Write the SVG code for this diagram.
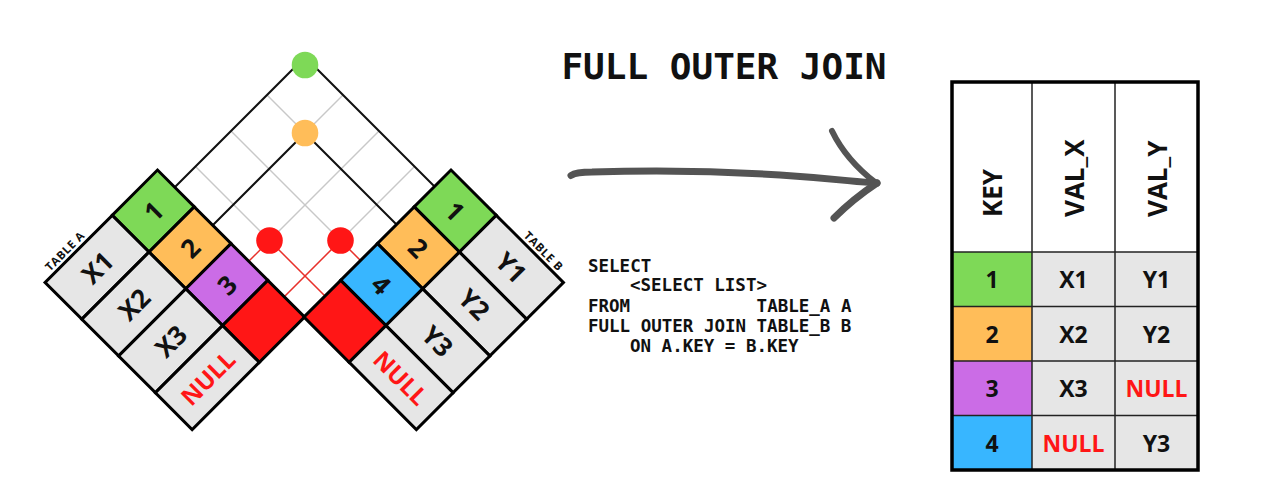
<svg xmlns="http://www.w3.org/2000/svg" width="1272" height="498" viewBox="0 0 1272 498">
<style>
.bg{fill:#ffffff}
.cell{stroke:#000;stroke-width:3;stroke-linejoin:miter}
.val{fill:#e6e6e6}
.g{fill:#7ed957}.o{fill:#ffbd59}.p{fill:#cb6ce6}.b{fill:#38b6ff}.r{fill:#ff1616}
.t{font-family:"Open Sans","DejaVu Sans",sans-serif;font-weight:700;fill:#111;text-anchor:middle;dominant-baseline:central}
.big{font-size:26px}
.null{fill:#ff1616;font-size:24px}
.lbl{font-family:"Open Sans","DejaVu Sans",sans-serif;font-weight:700;font-size:11.5px;letter-spacing:0.6px;fill:#111}
.gray{stroke:#c8c8c8;stroke-width:1.5;fill:none}
.blk{stroke:#111;stroke-width:2;fill:none}
.red{stroke:#e8312b;stroke-width:1.5;fill:none}
.mono{font-family:"DejaVu Sans Mono","Liberation Mono",monospace;font-weight:700;fill:#111}
.sql{font-size:17.5px}
.arrow{stroke:#545454;fill:none;stroke-linecap:round;stroke-linejoin:round}
.tline{stroke:#222;stroke-width:1.5}
.tt{font-family:"Open Sans","DejaVu Sans",sans-serif;font-weight:700;fill:#111;text-anchor:middle;dominant-baseline:central;font-size:23px}
.th{font-family:"Open Sans","DejaVu Sans",sans-serif;font-weight:700;fill:#111;dominant-baseline:central;font-size:26px}
</style>
<rect class="bg" x="0" y="0" width="1272" height="498"/>

<g id="connectors">
  <line class="gray" x1="305" y1="133" x2="343" y2="95"/>
  <line class="gray" x1="305" y1="133" x2="267" y2="95"/>
  <line class="gray" x1="269.5" y1="240.5" x2="379" y2="131"/>
  <line class="gray" x1="269.5" y1="240.5" x2="195.5" y2="166.5"/>
  <line class="gray" x1="340.5" y1="240.5" x2="414.5" y2="166.5"/>
  <line class="gray" x1="340.5" y1="240.5" x2="231" y2="131"/>
  <polyline class="blk" points="174.75,187.25 305,57 434.5,186.5"/>
  <polyline class="blk" points="212.75,225.25 305,133 396.5,224.5"/>
  <polyline class="red" points="248.75,261.25 269.5,240.5 325,296"/>
  <polyline class="red" points="284.25,296.75 340.5,240.5 360.5,260.5"/>
</g>

<g id="table-a" transform="translate(157.5,170) rotate(45)">
  <rect class="cell g" x="0" y="0" width="52" height="64"/>
  <rect class="cell o" x="52" y="0" width="52" height="64"/>
  <rect class="cell p" x="104" y="0" width="52" height="64"/>
  <rect class="cell r" x="156" y="0" width="52" height="64"/>
  <rect class="cell val" x="0" y="64" width="52" height="95"/>
  <rect class="cell val" x="52" y="64" width="52" height="95"/>
  <rect class="cell val" x="104" y="64" width="52" height="95"/>
  <rect class="cell val" x="156" y="64" width="52" height="95"/>
  <text class="t big" transform="translate(26,32) rotate(-90)">1</text>
  <text class="t big" transform="translate(78,32) rotate(-90)">2</text>
  <text class="t big" transform="translate(130,32) rotate(-90)">3</text>
  <text class="t big" transform="translate(26,111.5) rotate(-90)">X1</text>
  <text class="t big" transform="translate(78,111.5) rotate(-90)">X2</text>
  <text class="t big" transform="translate(130,111.5) rotate(-90)">X3</text>
  <text class="t null" transform="translate(182,111.5) rotate(-90)">NULL</text>
  <text class="lbl" transform="translate(-4,148) rotate(-90)">TABLE A</text>
</g>

<g id="table-b" transform="translate(451,170) rotate(45)">
  <rect class="cell g" x="0" y="0" width="64" height="52"/>
  <rect class="cell o" x="0" y="52" width="64" height="52"/>
  <rect class="cell b" x="0" y="104" width="64" height="52"/>
  <rect class="cell r" x="0" y="156" width="64" height="52"/>
  <rect class="cell val" x="64" y="0" width="95" height="52"/>
  <rect class="cell val" x="64" y="52" width="95" height="52"/>
  <rect class="cell val" x="64" y="104" width="95" height="52"/>
  <rect class="cell val" x="64" y="156" width="95" height="52"/>
  <text class="t big" x="32" y="26">1</text>
  <text class="t big" x="32" y="78">2</text>
  <text class="t big" x="32" y="130">4</text>
  <text class="t big" x="111.5" y="26">Y1</text>
  <text class="t big" x="111.5" y="78">Y2</text>
  <text class="t big" x="111.5" y="130">Y3</text>
  <text class="t null" x="111.5" y="182">NULL</text>
  <text class="lbl" x="148" y="-4" text-anchor="end">TABLE B</text>
</g>

<g id="join-points">
  <circle id="jp-1" cx="305" cy="65" r="13.3" fill="#7ed957"/>
  <circle id="jp-2" cx="305" cy="133" r="13.3" fill="#ffbd59"/>
  <circle id="jp-3" cx="269.5" cy="240.5" r="13.3" fill="#ff1616"/>
  <circle id="jp-4" cx="340.5" cy="240.5" r="13.3" fill="#ff1616"/>
</g>

<g id="title">
  <text class="mono" x="724" y="79" font-size="36" text-anchor="middle">FULL OUTER JOIN</text>
</g>

<g id="arrow">
  <path class="arrow" stroke-width="7" d="M571,175.5 Q576,172 592,172 C650,170 720,171 780,175 S855,182 877,183"/>
  <path class="arrow" stroke-width="6" d="M832,131 Q846,160 876,183"/>
  <path class="arrow" stroke-width="7" d="M877,183 Q853,199 834,218"/>
</g>

<g id="sql">
  <text class="mono sql" x="588" y="271.5">SELECT</text>
  <text class="mono sql" x="630" y="291">&lt;SELECT LIST&gt;</text>
  <text class="mono sql" x="588" y="311.5">FROM</text>
  <text class="mono sql" x="756.6" y="311.5">TABLE_A A</text>
  <text class="mono sql" x="588" y="331.5">FULL OUTER JOIN TABLE_B B</text>
  <text class="mono sql" x="630" y="351.5">ON A.KEY = B.KEY</text>
</g>

<g id="result-table">
  <rect x="952" y="82" width="246" height="170" fill="#fff"/>
  <rect x="952" y="252" width="80" height="54.5" fill="#7ed957"/>
  <rect x="952" y="306.5" width="80" height="54.5" fill="#ffbd59"/>
  <rect x="952" y="361" width="80" height="54.5" fill="#cb6ce6"/>
  <rect x="952" y="415.5" width="80" height="54.5" fill="#38b6ff"/>
  <rect x="1032" y="252" width="166" height="218" fill="#e6e6e6"/>
  <line class="tline" x1="1032" y1="82" x2="1032" y2="470"/>
  <line class="tline" x1="1115" y1="82" x2="1115" y2="470"/>
  <line class="tline" x1="952" y1="252" x2="1198" y2="252"/>
  <line class="tline" x1="952" y1="306.5" x2="1198" y2="306.5"/>
  <line class="tline" x1="952" y1="361" x2="1198" y2="361"/>
  <line class="tline" x1="952" y1="415.5" x2="1198" y2="415.5"/>
  <rect x="952" y="82" width="246" height="388" fill="none" stroke="#000" stroke-width="3.5"/>
  <text class="th" transform="translate(992,217) rotate(-90)">KEY</text>
  <text class="th" transform="translate(1073.5,217) rotate(-90)">VAL_X</text>
  <text class="th" transform="translate(1156.5,217) rotate(-90)">VAL_Y</text>
  <text class="tt" x="992" y="279.25">1</text>
  <text class="tt" x="1073.5" y="279.25">X1</text>
  <text class="tt" x="1156.5" y="279.25">Y1</text>
  <text class="tt" x="992" y="333.75">2</text>
  <text class="tt" x="1073.5" y="333.75">X2</text>
  <text class="tt" x="1156.5" y="333.75">Y2</text>
  <text class="tt" x="992" y="388.25">3</text>
  <text class="tt" x="1073.5" y="388.25">X3</text>
  <text class="tt" x="1156.5" y="388.25" style="fill:#ff1616">NULL</text>
  <text class="tt" x="992" y="442.75">4</text>
  <text class="tt" x="1073.5" y="442.75" style="fill:#ff1616">NULL</text>
  <text class="tt" x="1156.5" y="442.75">Y3</text>
</g>
</svg>
